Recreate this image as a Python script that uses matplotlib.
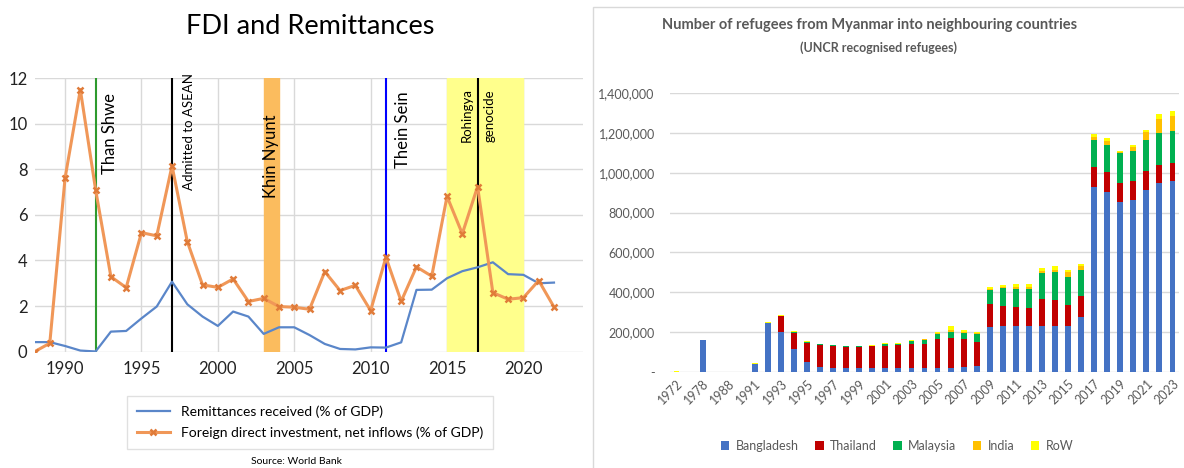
import numpy as np
import matplotlib.pyplot as plt
from matplotlib.patches import Rectangle
from matplotlib.ticker import FuncFormatter

plt.rcParams['font.family'] = ['Lato', 'DejaVu Sans']

# ---- left chart data (World Bank, % of GDP)
years = list(range(1988, 2023))
remit = [0.42, 0.42, 0.25, 0.05, 0.01, 0.88, 0.91, 1.46, 1.98, 3.07, 2.08, 1.54,
         1.13, 1.76, 1.54, 0.78, 1.07, 1.07, 0.73, 0.34, 0.12, 0.10, 0.19, 0.18,
         0.41, 2.71, 2.72, 3.22, 3.53, 3.70, 3.92, 3.40, 3.37, 3.00, 3.03]
fdi = [0.0, 0.37, 7.61, 11.49, 7.10, 3.29, 2.81, 5.22, 5.08, 8.15, 4.83, 2.93,
       2.82, 3.19, 2.20, 2.34, 1.98, 1.95, 1.86, 3.51, 2.68, 2.91, 1.80, 4.14,
       2.21, 3.72, 3.31, 6.81, 5.17, 7.24, 2.59, 2.30, 2.37, 3.12, 1.96]

# ---- right chart data (UNHCR refugees)
cats = ['1972', '1975', '1978', '1985', '1988', '1990'] + [str(y) for y in range(1991, 2024)]
bangladesh = [0, 0, 160000, 0, 0, 0,
              40000, 245000, 200000, 115000, 50000, 25000, 18000, 20000, 22000, 21000,
              22000, 18000, 18000, 20000, 20000, 22000, 27000, 28000, 225000, 230000,
              230000, 230000, 230000, 230000, 230000, 275000, 930000, 905000, 855000,
              865000, 915000, 950000, 960000]
thailand = [0, 0, 0, 0, 0, 0,
            0, 0, 82000, 83000, 95000, 112000, 111000, 105000, 103000, 107000,
            110000, 115000, 122000, 120000, 148000, 151000, 138000, 124000, 117000, 102000,
            98000, 93000, 135000, 132000, 105000, 105000, 97000, 97000, 92000,
            92000, 93000, 90000, 90000]
malaysia = [0, 0, 0, 0, 0, 0,
            0, 0, 0, 3000, 6000, 4000, 4000, 3000, 3000, 4000,
            6000, 7000, 15000, 22000, 22000, 30000, 30000, 40000, 68000, 88000,
            89000, 94000, 130000, 138000, 143000, 132000, 135000, 138000, 150000,
            153000, 155000, 158000, 157000]
india = [0, 0, 0, 0, 0, 0,
         0, 0, 0, 0, 0, 0, 0, 0, 0, 0,
         3000, 2000, 3000, 2000, 4000, 7000, 6000, 4000, 8000, 8000,
         11000, 10000, 13000, 14000, 22000, 22000, 17000, 17000, 8000,
         17000, 40000, 72000, 76000]
row = [5000, 0, 0, 0, 0, 0,
       3000, 4000, 3000, 3000, 5000, 2000, 2000, 2000, 2000, 2000,
       5000, 5000, 5000, 4000, 8000, 20000, 9000, 7000, 7000, 7000,
       12000, 13000, 12000, 16000, 13000, 8000, 13000, 15000, 5000,
       13000, 10000, 25000, 25000]

W, H = 1184, 468
fig = plt.figure(figsize=(W / 100, H / 100), dpi=100)

def fx(px):
    return px / W

def fy(py):
    return 1 - py / H

# ================= left chart =================
ax = fig.add_axes([fx(34.5), fy(351.7), fx(583) - fx(34.5), fy(78) - fy(351.7)])
ax.set_xlim(1988, 2023.9)
ax.set_ylim(0, 12)
ax.set_yticks(range(0, 13, 2))
ax.set_xticks(range(1990, 2021, 5))
ax.grid(True, color='#D9D9D9', lw=1)
ax.set_axisbelow(True)
for s in ax.spines.values():
    s.set_visible(False)
ax.tick_params(length=0, labelsize=12, colors='#222222')
ax.tick_params(axis='x', pad=7)
ax.tick_params(axis='y', pad=5)

ax.axvspan(2003, 2004, color='#FBBC5E', zorder=1)
ax.axvspan(2015, 2020, color='#FFFF8C', zorder=1)
ax.axvline(1992, color='#2E9A2E', lw=1.5, zorder=2)
ax.axvline(1997, color='black', lw=1.5, zorder=2)
ax.axvline(2011, color='#0000FF', lw=1.5, zorder=2)
ax.axvline(2017, color='black', lw=1.5, zorder=2)

ax.plot(years, remit, color='#5A86C9', lw=1.6, zorder=3,
        label='Remittances received (% of GDP)')
ax.plot(years, fdi, color='#F09758', lw=2.2, marker='x', ms=5, mew=1.8,
        mec='#E07B39', zorder=4,
        label='Foreign direct investment, net inflows (% of GDP)')

ax.text(1992.95, 11.35, 'Than Shwe', rotation=90, ha='center', va='top', fontsize=12)
ax.text(1998.1, 12.22, 'Admitted to ASEAN', rotation=90, ha='center', va='top',
        fontsize=9.5, clip_on=False)
ax.text(2003.5, 10.38, 'Khin Nyunt', rotation=90, ha='center', va='top', fontsize=12)
ax.text(2012.15, 11.4, 'Thein Sein', rotation=90, ha='center', va='top', fontsize=12)
ax.text(2016.3, 11.55, 'Rohingya', rotation=90, ha='center', va='top', fontsize=9.5)
ax.text(2017.8, 11.5, 'genocide', rotation=90, ha='center', va='top', fontsize=9.5)

fig.text(fx(310), fy(27), 'FDI and Remittances', ha='center', va='center', fontsize=19.5)

leg = ax.legend(loc='center', bbox_to_anchor=(fx(310), fy(422.5)),
                bbox_transform=fig.transFigure, fontsize=10, frameon=True,
                fancybox=False, edgecolor='#D9D9D9', handlelength=2.4,
                borderpad=0.7, labelspacing=0.6)
leg.get_frame().set_linewidth(1)

fig.text(fx(296), fy(457), 'Source: World Bank', ha='center', va='top', fontsize=7.5)

# ================= right chart =================
fig.patches.append(Rectangle((fx(593), -0.02), 0.6, fy(7) + 0.02, transform=fig.transFigure,
                             fill=False, edgecolor='#D9D9D9', lw=1))

ax2 = fig.add_axes([fx(670), fy(372), fx(1179) - fx(670), fy(93) - fy(372)])
x = np.arange(len(cats))
series = [('Bangladesh', bangladesh, '#4472C4'),
          ('Thailand', thailand, '#C00000'),
          ('Malaysia', malaysia, '#00B050'),
          ('India', india, '#FFC000'),
          ('RoW', row, '#FFFF00')]
bottom = np.zeros(len(cats))
for name, vals, col in series:
    vals = np.array(vals, dtype=float)
    ax2.bar(x, vals, 0.45, bottom=bottom, color=col, label=name, zorder=3)
    bottom += vals

ax2.set_xlim(-0.5, len(cats) - 0.5)
ax2.set_ylim(0, 1400000)
ax2.set_yticks(range(0, 1400001, 200000))
ax2.yaxis.set_major_formatter(FuncFormatter(lambda v, p: '-' if v == 0 else '{:,.0f}'.format(v)))
ax2.grid(True, axis='y', color='#D9D9D9', lw=1)
ax2.set_axisbelow(True)
for s in ax2.spines.values():
    s.set_visible(False)
ax2.set_xticks(x[::2])
ax2.set_xticklabels(cats[::2], rotation=45, ha='right', va='top', rotation_mode='anchor')
ax2.tick_params(length=0, labelsize=9, colors='#595959')
ax2.tick_params(axis='y', pad=11)
ax2.tick_params(axis='x', pad=4)

fig.text(fx(870), fy(25), 'Number of refugees from Myanmar into neighbouring countries',
         ha='center', va='center', fontsize=10.5, color='#595959', fontweight='bold')
fig.text(fx(878), fy(48), '(UNCR recognised refugees)', ha='center', va='center',
         fontsize=9, color='#595959', fontweight='bold')

leg2 = ax2.legend(loc='center', bbox_to_anchor=(fx(897), fy(446)), bbox_transform=fig.transFigure,
                  ncol=5, frameon=False, fontsize=9, handlelength=0.7, handleheight=0.7,
                  columnspacing=1.3, handletextpad=0.5)
for t in leg2.get_texts():
    t.set_color('#595959')

fig.savefig('out.png', dpi=100)
